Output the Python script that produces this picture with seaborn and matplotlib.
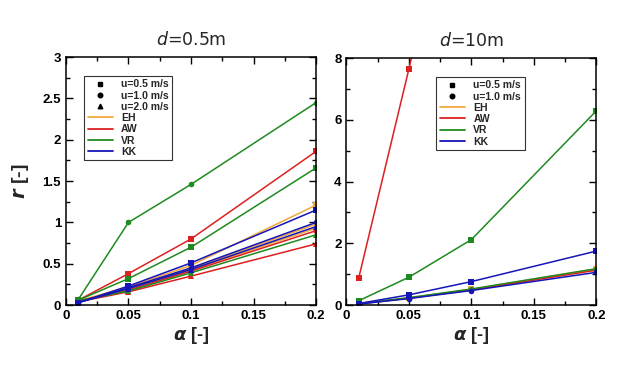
import pandas as pd
import matplotlib
matplotlib.use("Agg")
import matplotlib.pyplot as plt
import seaborn as sns
from matplotlib.lines import Line2D
from matplotlib.ticker import MultipleLocator

# valores
alpha = [0.01, 0.05, 0.1, 0.2]

# d = 0.5 m
d05_EH_u05 = [0.05, 0.22, 0.48, 1.21]
d05_EH_u10 = [0.05, 0.20, 0.44, 0.98]
d05_EH_u20 = [0.05, 0.19, 0.42, 0.93]
d05_AW_u05 = [0.06, 0.38, 0.80, 1.86]
d05_AW_u10 = [0.05, 0.18, 0.41, 0.90]
d05_AW_u20 = [0.04, 0.16, 0.35, 0.74]
d05_VR_u05 = [0.06, 0.32, 0.70, 1.66]
d05_VR_u10 = [0.07, 1.00, 1.46, 2.45]
d05_VR_u20 = [0.05, 0.17, 0.39, 0.85]
d05_KK_u05 = [0.03, 0.23, 0.51, 1.15]
d05_KK_u10 = [0.03, 0.21, 0.45, 1.00]
d05_KK_u20 = [0.03, 0.20, 0.43, 0.95]

# d = 10 m
d10_EH_u05 = [0.04, 0.23, 0.51, 1.17]
d10_EH_u10 = [0.04, 0.22, 0.50, 1.15]
d10_AW_u05 = [0.88, 7.64, 16.5, 33.0]
d10_AW_u10 = [0.04, 0.22, 0.49, 1.13]
d10_VR_u05 = [0.14, 0.90, 2.12, 6.30]
d10_VR_u10 = [0.05, 0.24, 0.52, 1.18]
d10_KK_u05 = [0.05, 0.33, 0.76, 1.75]
d10_KK_u10 = [0.03, 0.21, 0.47, 1.06]

models = ['EH', 'AW', 'VR', 'KK']
cores = {'EH': '#f2a83a', 'AW': '#dd2020', 'VR': '#1f8a1f', 'KK': '#1515b8'}
marcadores = {'u=0.5 m/s': 's', 'u=1.0 m/s': 'o', 'u=2.0 m/s': '^'}

series_05 = [('EH', 'u=0.5 m/s', d05_EH_u05), ('EH', 'u=1.0 m/s', d05_EH_u10), ('EH', 'u=2.0 m/s', d05_EH_u20),
             ('AW', 'u=0.5 m/s', d05_AW_u05), ('AW', 'u=1.0 m/s', d05_AW_u10), ('AW', 'u=2.0 m/s', d05_AW_u20),
             ('VR', 'u=0.5 m/s', d05_VR_u05), ('VR', 'u=1.0 m/s', d05_VR_u10), ('VR', 'u=2.0 m/s', d05_VR_u20),
             ('KK', 'u=0.5 m/s', d05_KK_u05), ('KK', 'u=1.0 m/s', d05_KK_u10), ('KK', 'u=2.0 m/s', d05_KK_u20)]
series_10 = [('EH', 'u=0.5 m/s', d10_EH_u05), ('EH', 'u=1.0 m/s', d10_EH_u10),
             ('AW', 'u=0.5 m/s', d10_AW_u05), ('AW', 'u=1.0 m/s', d10_AW_u10),
             ('VR', 'u=0.5 m/s', d10_VR_u05), ('VR', 'u=1.0 m/s', d10_VR_u10),
             ('KK', 'u=0.5 m/s', d10_KK_u05), ('KK', 'u=1.0 m/s', d10_KK_u10)]


def montar_df(series):
    linhas = []
    for m, u, vals in series:
        for a, r in zip(alpha, vals):
            linhas.append({'alpha': a, 'r': r, 'modelo': m, 'u': u})
    return pd.DataFrame(linhas)


sns.set_theme(style='ticks')
plt.rcParams['font.family'] = ['Liberation Sans', 'DejaVu Sans']
plt.rcParams['mathtext.fontset'] = 'custom'
plt.rcParams['mathtext.it'] = 'DejaVu Sans:italic'
plt.rcParams['mathtext.bf'] = 'DejaVu Sans:bold:italic'

fig = plt.figure(figsize=(6.4, 3.78), dpi=100)
ax1 = fig.add_axes([0.103, 0.193, 0.391, 0.656])
ax2 = fig.add_axes([0.541, 0.193, 0.391, 0.653])

for ax, series, ymax, ymaj, ymin, us in [(ax1, series_05, 3, 0.5, 0.25, ['u=0.5 m/s', 'u=1.0 m/s', 'u=2.0 m/s']),
                                         (ax2, series_10, 8, 2, 1, ['u=0.5 m/s', 'u=1.0 m/s'])]:
    df = montar_df(series)
    sns.lineplot(data=df, x='alpha', y='r', hue='modelo', style='u', hue_order=models,
                 palette=cores, markers=marcadores, dashes=False, linewidth=1.1,
                 markersize=4, markeredgewidth=0, ax=ax, legend=False, sort=True,
                 estimator=None)
    ax.set_xlim(0, 0.2)
    ax.set_ylim(0, ymax)
    ax.xaxis.set_minor_locator(MultipleLocator(0.025))
    ax.yaxis.set_major_locator(MultipleLocator(ymaj))
    ax.yaxis.set_minor_locator(MultipleLocator(ymin))
    ax.set_xticks([0, 0.05, 0.1, 0.15, 0.2])
    ax.set_xticklabels(['0', '0.05', '0.1', '0.15', '0.2'])
    ax.tick_params(which='both', direction='in', top=True, right=True, labelsize=9.5, width=1, colors='black')
    ax.tick_params(which='major', length=5)
    ax.tick_params(which='minor', length=3)
    for s in ax.spines.values():
        s.set_linewidth(1.1)
        s.set_color('black')
    ax.set_xlabel(r'$\mathbf{\alpha}$ [-]', fontsize=13, fontweight='bold', labelpad=2)
    ax.set_ylabel('')

    handles = [Line2D([], [], color='black', marker=marcadores[u], linestyle='none', markersize=3.3) for u in us]
    labels = list(us)
    for m in models:
        handles.append(Line2D([], [], color=cores[m], linewidth=1.3))
        labels.append(m)
    leg_x = 0.072 if ax is ax1 else 0.36
    leg = ax.legend(handles, labels, loc='upper left', bbox_to_anchor=(leg_x, 0.925), fontsize=7.5,
                    frameon=True, fancybox=False, edgecolor='black', handlelength=2.4,
                    handletextpad=0.8, labelspacing=0.12, borderpad=0.35, borderaxespad=0)
    leg.get_frame().set_linewidth(0.8)
    for t in leg.get_texts():
        t.set_fontweight('bold')

ax1.yaxis.set_major_formatter(matplotlib.ticker.FuncFormatter(lambda v, p: f'{v:g}'))
for ax in (ax1, ax2):
    for lab in ax.get_xticklabels() + ax.get_yticklabels():
        lab.set_fontweight('bold')
ax1.set_ylabel(r'$\mathbf{r}$ [-]', fontsize=14, fontweight='bold', labelpad=8)

ax1.set_title(r'$d$=0.5m', fontsize=12.5, family='DejaVu Sans', pad=9)
ax2.set_title(r'$d$=10m', fontsize=12.5, family='DejaVu Sans', pad=9)

fig.savefig('out.png', dpi=100)
